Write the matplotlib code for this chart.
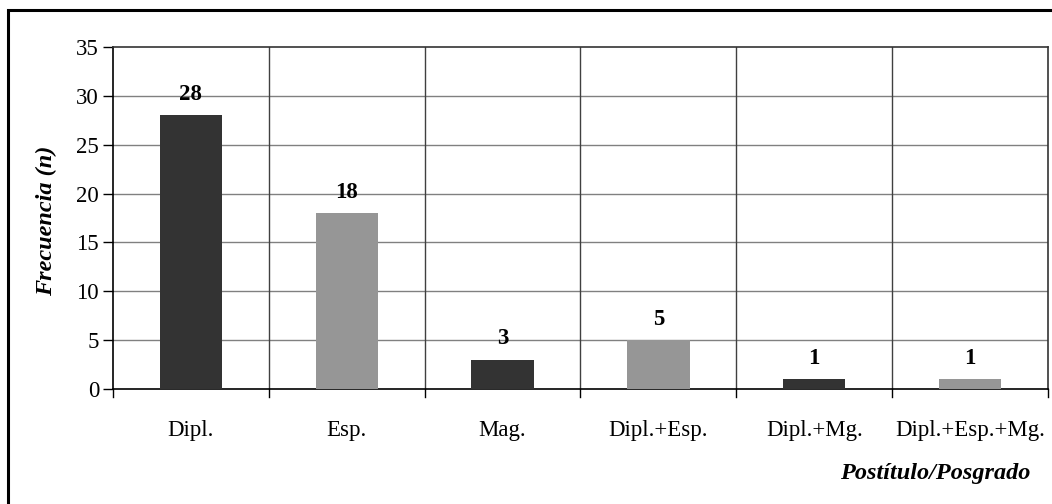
"""Frecuencia por tipo de postítulo/posgrado."""

import matplotlib.pyplot as plt
from matplotlib.patches import Rectangle

categorias = ["Dipl.", "Esp.", "Mag.", "Dipl.+Esp.", "Dipl.+Mg.", "Dipl.+Esp.+Mg."]
frecuencias = [28, 18, 3, 5, 1, 1]
colores = ["#333333", "#969696", "#333333", "#969696", "#333333", "#969696"]
y_ticks = [0, 5, 10, 15, 20, 25, 30, 35]

plt.rcParams["font.family"] = ["Liberation Serif", "DejaVu Serif"]
FS = 16.5


def main() -> None:
    fig = plt.figure(figsize=(10.52, 5.04), dpi=100)
    W, H = 1052, 504
    ax = fig.add_axes([113 / W, 1 - 389 / H, (1048 - 113) / W, (389 - 47) / H])

    # outer frame (Excel chart area)
    fig.patches.append(Rectangle((8 / W, -0.05), 1.1, 1 - 10 / H + 0.05,
                                 transform=fig.transFigure, fill=False,
                                 edgecolor="black", linewidth=2.2, zorder=0))

    x = range(len(categorias))
    ax.bar(x, frecuencias, width=0.40, color=colores, zorder=3)
    for xi, v in zip(x, frecuencias):
        ax.text(xi, v + 1.05, str(v), ha="center", va="bottom",
                fontsize=FS, fontweight="bold", zorder=4)

    ax.set_xlim(-0.5, len(categorias) - 0.5)
    ax.set_ylim(0, 35)
    ax.set_yticks(y_ticks)
    ax.set_yticklabels([str(t) for t in y_ticks], fontsize=FS)
    ax.set_xticks(list(x))
    ax.set_xticklabels(categorias, fontsize=FS)
    ax.tick_params(axis="x", length=0, pad=22)
    ax.tick_params(axis="y", length=7, width=1, direction="out", pad=3)

    # horizontal gridlines
    for t in y_ticks[1:-1]:
        ax.axhline(t, color="#808080", linewidth=1, zorder=1)
    # vertical separators between categories, with ticks below the axis
    for b in range(1, len(categorias)):
        ax.axvline(b - 0.5, color="#404040", linewidth=1, zorder=1)
    for b in range(len(categorias) + 1):
        ax.plot([b - 0.5, b - 0.5], [0, -0.8], color="black", linewidth=1,
                clip_on=False, zorder=5)

    for side in ["left", "bottom"]:
        ax.spines[side].set_color("black")
        ax.spines[side].set_linewidth(1.2)
    for side in ["top", "right"]:
        ax.spines[side].set_color("#333333")
        ax.spines[side].set_linewidth(1.2)

    fig.text(46 / W, 1 - 221 / H, "Frecuencia (n)", rotation=90,
             ha="center", va="center", fontsize=17.5, fontweight="bold",
             style="italic")
    fig.text(1030 / W, 1 - 474 / H, "Postítulo/Posgrado", ha="right",
             va="center", fontsize=17.5, fontweight="bold", style="italic")

    fig.savefig("out.png", dpi=100)


if __name__ == "__main__":
    main()
